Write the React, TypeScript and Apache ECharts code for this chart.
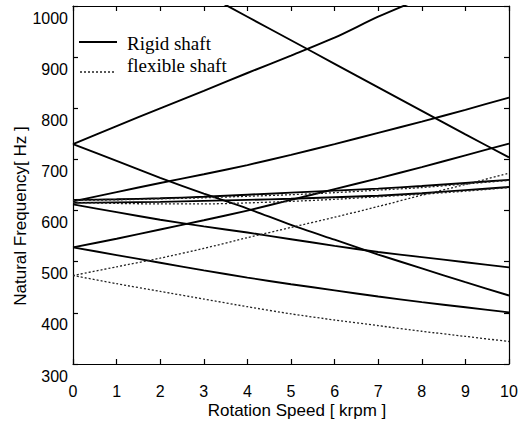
import React, { useEffect, useRef } from "react";
import * as echarts from "echarts";

const speedKrpm = [0, 1, 2, 3, 4, 5, 6, 7, 8, 9, 10];
const yTicks = [300, 400, 500, 600, 700, 800, 900, 1000];

// Rigid shaft (solid)
const rigidA = [730, 765, 800, 834, 869, 903, 938, 979, 1015, null, null];
const rigidB = [730, 697, 664, 633, 604, 572, 543, 514, 487, 460, 434];
const rigidC = [618, 636, 654, 671, 689, 709, 730, 752, 774, 797, 821];
const rigidD = [612, 597, 582, 569, 557, 544, 531, 519, 509, 499, 489];
const rigidE = [528, 545, 563, 581, 600, 621, 642, 663, 685, 708, 731];
const rigidF = [528, 513, 498, 483, 469, 456, 444, 432, 421, 411, 401];
const rigidH1 = [621, 622, 624, 627, 631, 635, 639, 643, 648, 654, 660];
const rigidH2 = [615, 616, 617, 619, 621, 623, 626, 629, 634, 640, 646];
const rigidI = [null, null, null, 1025, 979, 933, 887, 841, 795, 749, 704];

// Flexible shaft (dotted)
const flexG = [473, 490, 507, 526, 547, 567, 587, 608, 630, 651, 673];
const flexH = [473, 457, 442, 427, 412, 398, 386, 375, 364, 354, 344];
const flexH1 = [620, 621, 623, 625, 628, 631, 635, 640, 645, 652, 659];
const flexH2 = [616, 614, 613, 613, 615, 618, 622, 627, 632, 638, 645];

const rigidSeries = [rigidA, rigidB, rigidC, rigidD, rigidE, rigidF, rigidH1, rigidH2, rigidI];
const flexSeries = [flexG, flexH, flexH1, flexH2];

const toPairs = (vals: (number | null)[]) =>
  speedKrpm
    .map((k, i) => [k, vals[i]])
    .filter((p) => p[1] !== null && p[1] !== undefined);

export default function App() {
  const ref = useRef<HTMLDivElement>(null);

  useEffect(() => {
    if (!ref.current) return;
    const chart = echarts.init(ref.current, null, { renderer: "svg" });

    const sans = "Liberation Sans";
    const axisLine = { show: true, lineStyle: { color: "#000", width: 1.2 } };
    const tick = { show: true, inside: true, length: 5, lineStyle: { color: "#000", width: 1.2 } };

    const series: any[] = [];
    rigidSeries.forEach((vals, i) => {
      series.push({
        name: "Rigid shaft",
        id: "rigid" + i,
        type: "line",
        data: toPairs(vals),
        showSymbol: false,
        symbol: "none",
        smooth: 0.25,
        clip: true,
        lineStyle: { color: "#000", width: 1.9, type: "solid" },
        z: 3,
      });
    });
    flexSeries.forEach((vals, i) => {
      series.push({
        name: "flexible shaft",
        id: "flex" + i,
        type: "line",
        data: toPairs(vals),
        showSymbol: false,
        symbol: "none",
        smooth: 0.25,
        clip: true,
        lineStyle: { color: "#222", width: 1.3, type: [2, 2] },
        z: 4,
      });
    });

    chart.setOption({
      animation: false,
      backgroundColor: "#fff",
      grid: {
        left: 73,
        right: 12,
        top: 6,
        bottom: 60,
        containLabel: false,
        outerBoundsMode: "none",
      },
      xAxis: [
        {
          type: "value",
          min: 0,
          max: 10,
          interval: 1,
          position: "bottom",
          axisLine: { ...axisLine, onZero: false },
          axisTick: tick,
          splitLine: { show: false },
          axisLabel: {
            fontSize: 16,
            fontFamily: sans,
            color: "#000",
            margin: 19,
          },
        },
        {
          type: "value",
          min: 0,
          max: 10,
          interval: 1,
          position: "top",
          axisLine: { ...axisLine, onZero: false },
          axisTick: tick,
          splitLine: { show: false },
          axisLabel: { show: false },
        },
      ],
      yAxis: [
        {
          type: "value",
          min: yTicks[0],
          max: yTicks[yTicks.length - 1],
          interval: 100,
          position: "left",
          axisLine: { ...axisLine, onZero: false },
          axisTick: tick,
          splitLine: { show: false },
          axisLabel: {
            fontSize: 16,
            fontFamily: sans,
            color: "#000",
            margin: 5,
            verticalAlign: "middle",
            lineHeight: 24,
            formatter: (v: number) => "\n" + String(v),
            showMaxLabel: true,
            showMinLabel: true,
          },
        },
        {
          type: "value",
          min: yTicks[0],
          max: yTicks[yTicks.length - 1],
          interval: 100,
          position: "right",
          axisLine: { ...axisLine, onZero: false },
          axisTick: tick,
          splitLine: { show: false },
          axisLabel: { show: false },
        },
      ],
      series,
      graphic: [
        {
          type: "line",
          shape: { x1: 79, y1: 42, x2: 117, y2: 42 },
          style: { stroke: "#000", lineWidth: 2 },
        },
        {
          type: "text",
          x: 127,
          y: 43,
          style: {
            text: "Rigid shaft",
            fontSize: 19,
            fontFamily: "Liberation Serif",
            fill: "#000",
            align: "left",
            verticalAlign: "middle",
          },
        },
        {
          type: "line",
          shape: { x1: 80, y1: 72, x2: 114, y2: 72 },
          style: { stroke: "#222", lineWidth: 1.3, lineDash: [2, 2] },
        },
        {
          type: "text",
          x: 127,
          y: 65,
          style: {
            text: "flexible shaft",
            fontSize: 19,
            fontFamily: "Liberation Serif",
            fill: "#000",
            align: "left",
            verticalAlign: "middle",
          },
        },
        {
          type: "text",
          x: 297,
          y: 410,
          style: {
            text: "Rotation Speed [ krpm ]",
            fontSize: 17,
            fontFamily: sans,
            fill: "#000",
            align: "center",
            verticalAlign: "middle",
          },
        },
        {
          type: "text",
          x: 20,
          y: 216,
          rotation: Math.PI / 2,
          style: {
            text: "Natural Frequency[ Hz ]",
            fontSize: 17,
            fontFamily: sans,
            fill: "#000",
            align: "center",
            verticalAlign: "middle",
          },
        },
      ],
    });

    return () => chart.dispose();
  }, []);

  return (
    <div
      ref={ref}
      style={{ position: "fixed", left: 0, top: 0, width: 521, height: 424, background: "#fff" }}
    />
  );
}
